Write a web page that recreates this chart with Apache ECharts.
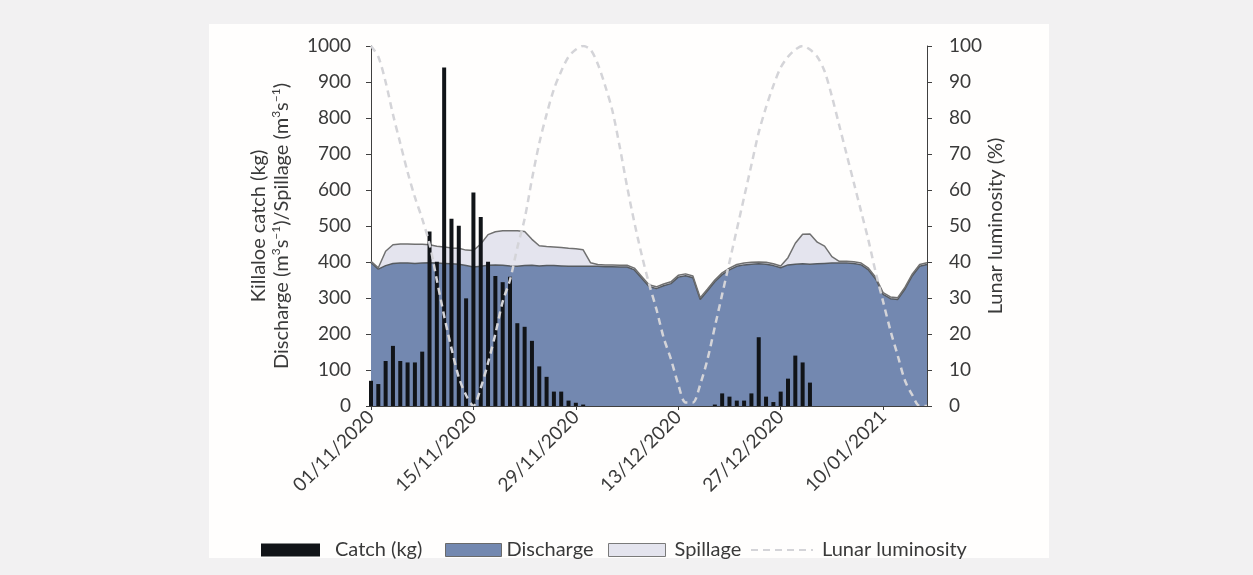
<!DOCTYPE html>
<html><head><meta charset="utf-8">
<script src="https://cdn.jsdelivr.net/npm/echarts@6/dist/echarts.min.js"></script>
<style>html,body{margin:0;padding:0;background:#f2f1f2;}#c{width:1253px;height:575px;}</style>
</head><body><div id="c"></div>
<script>
// ---- categories: daily dates from 01/11/2020 to 16/01/2021 ----
const startDay = Date.UTC(2020, 10, 1);
const nDays = 77;
const dates = [];
for (let i = 0; i < nDays; i++) {
  const d = new Date(startDay + i * 86400000);
  const dd = String(d.getUTCDate()).padStart(2, '0');
  const mm = String(d.getUTCMonth() + 1).padStart(2, '0');
  dates.push(dd + '/' + mm + '/' + d.getUTCFullYear());
}

// ---- series values ----
const catchKg = [
  70, 61, 125, 167, 125, 121, 121, 151, 485, 401,
  940, 520, 501, 299, 593, 525, 401, 361, 344, 359,
  230, 220, 181, 110, 81, 40, 40, 15, 9, 4,
  0, 0, 0, 0, 0, 0, 0, 0, 0, 0,
  0, 0, 0, 0, 0, 0, 0, 4, 35, 26,
  15, 15, 35, 191, 26, 11, 40, 76, 140, 121,
  65, 0, 0, 0, 0, 0, 0, 0, 0, 0,
  0, 0, 0, 0, 0, 0, 0
];
const discharge = [
  398, 380, 390, 396, 397, 397, 396, 397, 398, 397,
  396, 395, 394, 390, 386, 388, 391, 392, 391, 389,
  388, 390, 391, 389, 390, 390, 389, 388, 388, 388,
  388, 388, 387, 387, 386, 386, 378, 355, 332, 326,
  334, 340, 358, 362, 356, 296, 320, 345, 365, 378,
  388, 392, 394, 395, 394, 390, 384, 392, 394, 395,
  394, 395, 396, 397, 397, 397, 396, 392, 378, 352,
  310, 298, 296, 325, 362, 388, 393
];
const spillage = [
  4, 4, 40, 52, 53, 53, 53, 52, 50, 47,
  46, 44, 44, 43, 46, 62, 85, 92, 96, 98,
  99, 95, 72, 56, 53, 52, 51, 50, 49, 46,
  10, 5, 5, 5, 5, 5, 5, 5, 5, 5,
  5, 5, 5, 5, 5, 5, 5, 5, 5, 5,
  5, 5, 5, 5, 5, 5, 5, 20, 58, 82,
  84, 60, 48, 18, 5, 5, 5, 5, 5, 5,
  5, 5, 5, 5, 5, 5, 5
];
const lunar = [
  100, 97, 90, 81, 73, 65, 58, 52, 45, 35,
  25, 16, 8, 3, 0, 5, 12, 20, 29, 35,
  44, 52, 63, 73, 81, 88, 93, 97, 99, 100,
  99, 95, 89, 82, 72, 61, 51, 42, 34, 27,
  19, 13, 6, 1, 1, 6, 13, 22, 31, 40,
  49, 58, 67, 76, 83, 89, 94, 97, 99, 100,
  99, 97, 93, 86, 78, 70, 62, 54, 46, 37,
  29, 21, 14, 7, 3, 0, 0
];

// ---- axis ticks ----
const leftTicks = { min: 0, max: 1000, interval: 100 };
const rightTicks = { min: 0, max: 100, interval: 10 };

const FONT = 'Lato';
const TXT = '#3a3a3a';
const AX = '#404040';

const chart = echarts.init(document.getElementById('c'), null, { renderer: 'canvas' });
chart.setOption({
  animation: false,
  backgroundColor: '#f2f1f2',
  textStyle: { fontFamily: FONT },
  graphic: [{
    type: 'rect', silent: true, z: -10,
    shape: { x: 209, y: 24, width: 840, height: 534 },
    style: { fill: '#fffefd' }
  }],
  grid: { left: 371, right: 326, top: 46, bottom: 169, containLabel: false },
  legend: [
    { data: [{ name: 'Catch (kg)', icon: 'rect', itemStyle: { color: '#111418', borderWidth: 0 } }],
      left: 261, top: 540, padding: 0, itemWidth: 59, itemHeight: 13, selectedMode: false,
      textStyle: { fontSize: 20, color: TXT, fontFamily: FONT, padding: [0, 0, 0, 10] } },
    { data: [{ name: 'Discharge', icon: 'rect', itemStyle: { color: '#7388b0', borderColor: '#6a6a6a', borderWidth: 1 } }],
      left: 445, top: 540, padding: 0, itemWidth: 56, itemHeight: 13, selectedMode: false,
      textStyle: { fontSize: 20, color: TXT, fontFamily: FONT } },
    { data: [{ name: 'Spillage', icon: 'rect', itemStyle: { color: '#e4e4ee', borderColor: '#7a7a7a', borderWidth: 1 } }],
      left: 608, top: 540, padding: 0, itemWidth: 57, itemHeight: 13, selectedMode: false,
      textStyle: { fontSize: 20, color: TXT, fontFamily: FONT, padding: [0, 0, 0, 4] } },
    { data: [{ name: 'Lunar luminosity', itemStyle: { opacity: 0 } }],
      left: 750, top: 540, padding: 0, itemWidth: 62, itemHeight: 13, selectedMode: false,
      textStyle: { fontSize: 20, color: TXT, fontFamily: FONT, padding: [0, 0, 0, 4] } }
  ],
  xAxis: {
    type: 'category', data: dates, boundaryGap: false, z: 10,
    axisLine: { lineStyle: { color: AX, width: 1 } },
    axisTick: { interval: 13, length: 4, lineStyle: { color: AX } },
    axisLabel: { interval: 13, rotate: 45, margin: 8, fontSize: 19, color: TXT, fontFamily: FONT },
    splitLine: { show: false }
  },
  yAxis: [
    {
      type: 'value', min: leftTicks.min, max: leftTicks.max, interval: leftTicks.interval,
      name: 'Killaloe catch (kg)\nDischarge (m{s|3}s{s|−1})/Spillage (m{s|3}s{s|−1})',
      nameLocation: 'middle', nameGap: 78, nameRotate: 90,
      nameTextStyle: {
        fontSize: 20, lineHeight: 23, color: TXT, fontFamily: FONT, align: 'center',
        rich: { s: { fontSize: 12, lineHeight: 23, verticalAlign: 'top', color: TXT, fontFamily: FONT, padding: [0, 0, 8, 0] } }
      },
      axisLine: { show: true, lineStyle: { color: AX, width: 1 } },
      axisTick: { show: true, length: 5, lineStyle: { color: AX } },
      axisLabel: { margin: 20, fontSize: 19, color: TXT, fontFamily: FONT, formatter: v => String(v) },
      splitLine: { show: false }
    },
    {
      type: 'value', min: rightTicks.min, max: rightTicks.max, interval: rightTicks.interval, position: 'right',
      name: 'Lunar luminosity (%)',
      nameLocation: 'middle', nameGap: 33, nameRotate: 90,
      nameTextStyle: { fontSize: 20, color: TXT, fontFamily: FONT },
      axisLine: { show: true, lineStyle: { color: AX, width: 1 } },
      axisTick: { show: true, length: 5, lineStyle: { color: AX } },
      axisLabel: { margin: 22, fontSize: 19, color: TXT, fontFamily: FONT, formatter: v => String(v) },
      splitLine: { show: false }
    }
  ],
  series: [
    {
      name: 'Discharge', type: 'line', stack: 'flow', data: discharge, yAxisIndex: 0, z: 1,
      symbol: 'none', lineStyle: { color: '#555a60', width: 1.5 },
      itemStyle: { color: '#7388b0' },
      areaStyle: { color: '#7388b0', opacity: 1 }
    },
    {
      name: 'Spillage', type: 'line', stack: 'flow', data: spillage, yAxisIndex: 0, z: 1,
      symbol: 'none', lineStyle: { color: '#707070', width: 1.5 },
      itemStyle: { color: '#e4e4ee' },
      areaStyle: { color: '#e4e4ee', opacity: 1 }
    },
    {
      name: 'Catch (kg)', type: 'bar', data: catchKg, yAxisIndex: 0, z: 3,
      barWidth: 4, itemStyle: { color: '#111418' }
    },
    {
      name: 'Lunar luminosity', type: 'line', data: lunar, yAxisIndex: 1, z: 5,
      symbol: 'none', smooth: 0.3,
      lineStyle: { color: '#d4d4d8', width: 2.5, type: [7, 5] },
      itemStyle: { color: '#d4d4d8' }
    }
  ]
});
</script>
</body></html>
